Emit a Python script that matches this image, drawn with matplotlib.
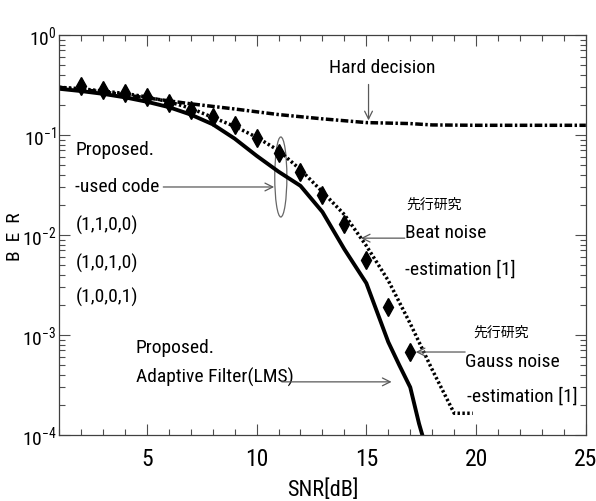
import matplotlib
matplotlib.use("Agg")
import matplotlib.pyplot as plt
import numpy as np
from matplotlib.patches import Ellipse
from matplotlib.ticker import MultipleLocator, LogLocator, NullFormatter

fam = ['Roboto Condensed', 'Liberation Sans', 'DejaVu Sans']
plt.rcParams['font.family'] = fam
plt.rcParams['mathtext.fontset'] = 'custom'
plt.rcParams['mathtext.rm'] = 'Roboto Condensed'
plt.rcParams['mathtext.it'] = 'Roboto Condensed'
plt.rcParams['axes.unicode_minus'] = False

# Proposed, Adaptive Filter (LMS) - solid
snr_lms = [1, 2, 3, 4, 5, 6, 7, 8, 9, 10, 11, 12, 13, 14, 15, 16, 16.5, 17, 17.4, 17.55]
ber_lms = [0.29, 0.275, 0.258, 0.238, 0.215, 0.19, 0.16, 0.128, 0.092, 0.062, 0.043, 0.031,
           0.017, 0.0072, 0.0033, 0.00085, 0.0005, 0.0003, 0.00013, 0.0001]

# Beat noise estimation [1] - dotted
snr_beat = [1, 2, 3, 4, 5, 6, 7, 8, 9, 10, 11, 12, 13, 14, 15, 16, 17, 18, 19, 19.85]
ber_beat = [0.30, 0.29, 0.275, 0.26, 0.24, 0.215, 0.185, 0.15, 0.122, 0.095, 0.07, 0.045,
            0.027, 0.016, 0.0078, 0.0035, 0.0013, 0.00045, 0.000165, 0.000165]

# Gauss noise estimation [1] - diamonds
snr_gauss = [2, 3, 4, 5, 6, 7, 8, 9, 10, 11, 12, 13, 14, 15, 16, 17]
ber_gauss = [0.31, 0.28, 0.26, 0.24, 0.21, 0.178, 0.15, 0.126, 0.093, 0.066, 0.043, 0.025,
             0.013, 0.0056, 0.0019, 0.00068]

# Hard decision - dash-dot
snr_hard = [1, 3, 5, 7, 9, 11, 13, 15, 17, 18, 20, 25]
ber_hard = [0.30, 0.27, 0.235, 0.205, 0.182, 0.16, 0.145, 0.133, 0.13, 0.126, 0.125, 0.125]

xticks = [5, 10, 15, 20, 25]
yticks = [1e-4, 1e-3, 1e-2, 1e-1, 1]
yticklabels = ['$10^{-4}$', '$10^{-3}$', '$10^{-2}$', '$10^{-1}$', '$10^{0}$']

fig = plt.figure(figsize=(5.96, 5.01), dpi=100)
ax = fig.add_axes([0.099, 0.1317, 0.884, 0.7985])

ax.plot(snr_hard, ber_hard, color='black', lw=2.5, dashes=(2.2, 0.7, 0.7, 0.7), solid_capstyle='butt')
ax.plot(snr_beat, ber_beat, color='black', lw=2.5, linestyle=(0, (0.7, 0.7)))
ax.plot(snr_lms, ber_lms, color='black', lw=2.8)
ax.plot(snr_gauss, ber_gauss, linestyle='none', marker='d', color='black', markersize=9)

ax.set_yscale('log')
ax.set_xlim(1, 25)
ax.set_ylim(1e-4, 1)
ax.set_xticks(xticks)
ax.set_xticklabels([str(t) for t in xticks])
ax.set_yticks(yticks)
ax.set_yticklabels(yticklabels)
ax.xaxis.set_minor_locator(MultipleLocator(1))
ax.yaxis.set_minor_locator(LogLocator(base=10, subs=np.arange(2, 10), numticks=20))
ax.yaxis.set_minor_formatter(NullFormatter())
ax.tick_params(which='both', direction='in', top=True, right=True, color='0.3')
ax.tick_params(which='major', length=8, width=0.8)
ax.tick_params(which='minor', length=4, width=0.8)
ax.tick_params(axis='x', pad=9, labelsize=17)
ax.tick_params(axis='y', pad=2, labelsize=14)
for s in ax.spines.values():
    s.set_linewidth(0.9)
    s.set_color('0.25')

ax.set_xlabel('SNR[dB]', fontsize=16)
ax.xaxis.set_label_coords(0.5, -0.11)
ax.set_ylabel('B  E  R', fontsize=14)
ax.yaxis.set_label_coords(-0.0664, 0.495)

fs = 14
arrow = dict(arrowstyle='->', color='0.35', lw=0.9, shrinkA=0, shrinkB=0,
             mutation_scale=14)

ax.text(13.3, 0.47, 'Hard decision', fontsize=fs, va='center', ha='left')
ax.annotate('', xy=(15.1, 0.14), xytext=(15.1, 0.32), arrowprops=arrow)

ax.text(1.75, 0.071, 'Proposed.', fontsize=fs, va='center')
ax.text(1.75, 0.0302, '-used code', fontsize=fs, va='center')
ax.text(1.75, 0.0126, '(1,1,0,0)', fontsize=fs, va='center')
ax.text(1.75, 0.00525, '(1,0,1,0)', fontsize=fs, va='center')
ax.text(1.75, 0.0024, '(1,0,0,1)', fontsize=fs, va='center')
ax.annotate('', xy=(10.8, 0.0302), xytext=(5.75, 0.0302), arrowprops=arrow)
ax.add_patch(Ellipse((0.421, 0.645), 0.023, 0.2, transform=ax.transAxes,
                     fill=False, edgecolor='0.4', lw=0.9))

ax.text(16.83, 0.020, '先行研究', fontsize=10, va='center', family=['Noto Sans CJK JP'])
ax.text(16.75, 0.0105, 'Beat noise', fontsize=fs, va='center')
ax.text(16.75, 0.00447, '-estimation [1]', fontsize=fs, va='center')
ax.annotate('', xy=(14.75, 0.0093), xytext=(16.75, 0.0093), arrowprops=arrow)

ax.text(19.87, 0.00105, '先行研究', fontsize=10, va='center', family=['Noto Sans CJK JP'])
ax.text(19.5, 0.000537, 'Gauss noise', fontsize=fs, va='center')
ax.text(19.6, 0.00024, '-estimation [1]', fontsize=fs, va='center')
ax.annotate('', xy=(17.25, 0.000676), xytext=(19.5, 0.000676), arrowprops=arrow)

ax.text(4.5, 0.00074, 'Proposed.', fontsize=fs, va='center')
ax.text(4.5, 0.00038, 'Adaptive Filter(LMS)', fontsize=fs, va='center')
ax.annotate('', xy=(16.15, 0.00034), xytext=(11.15, 0.00034), arrowprops=arrow)

fig.savefig('out.png', dpi=100)
